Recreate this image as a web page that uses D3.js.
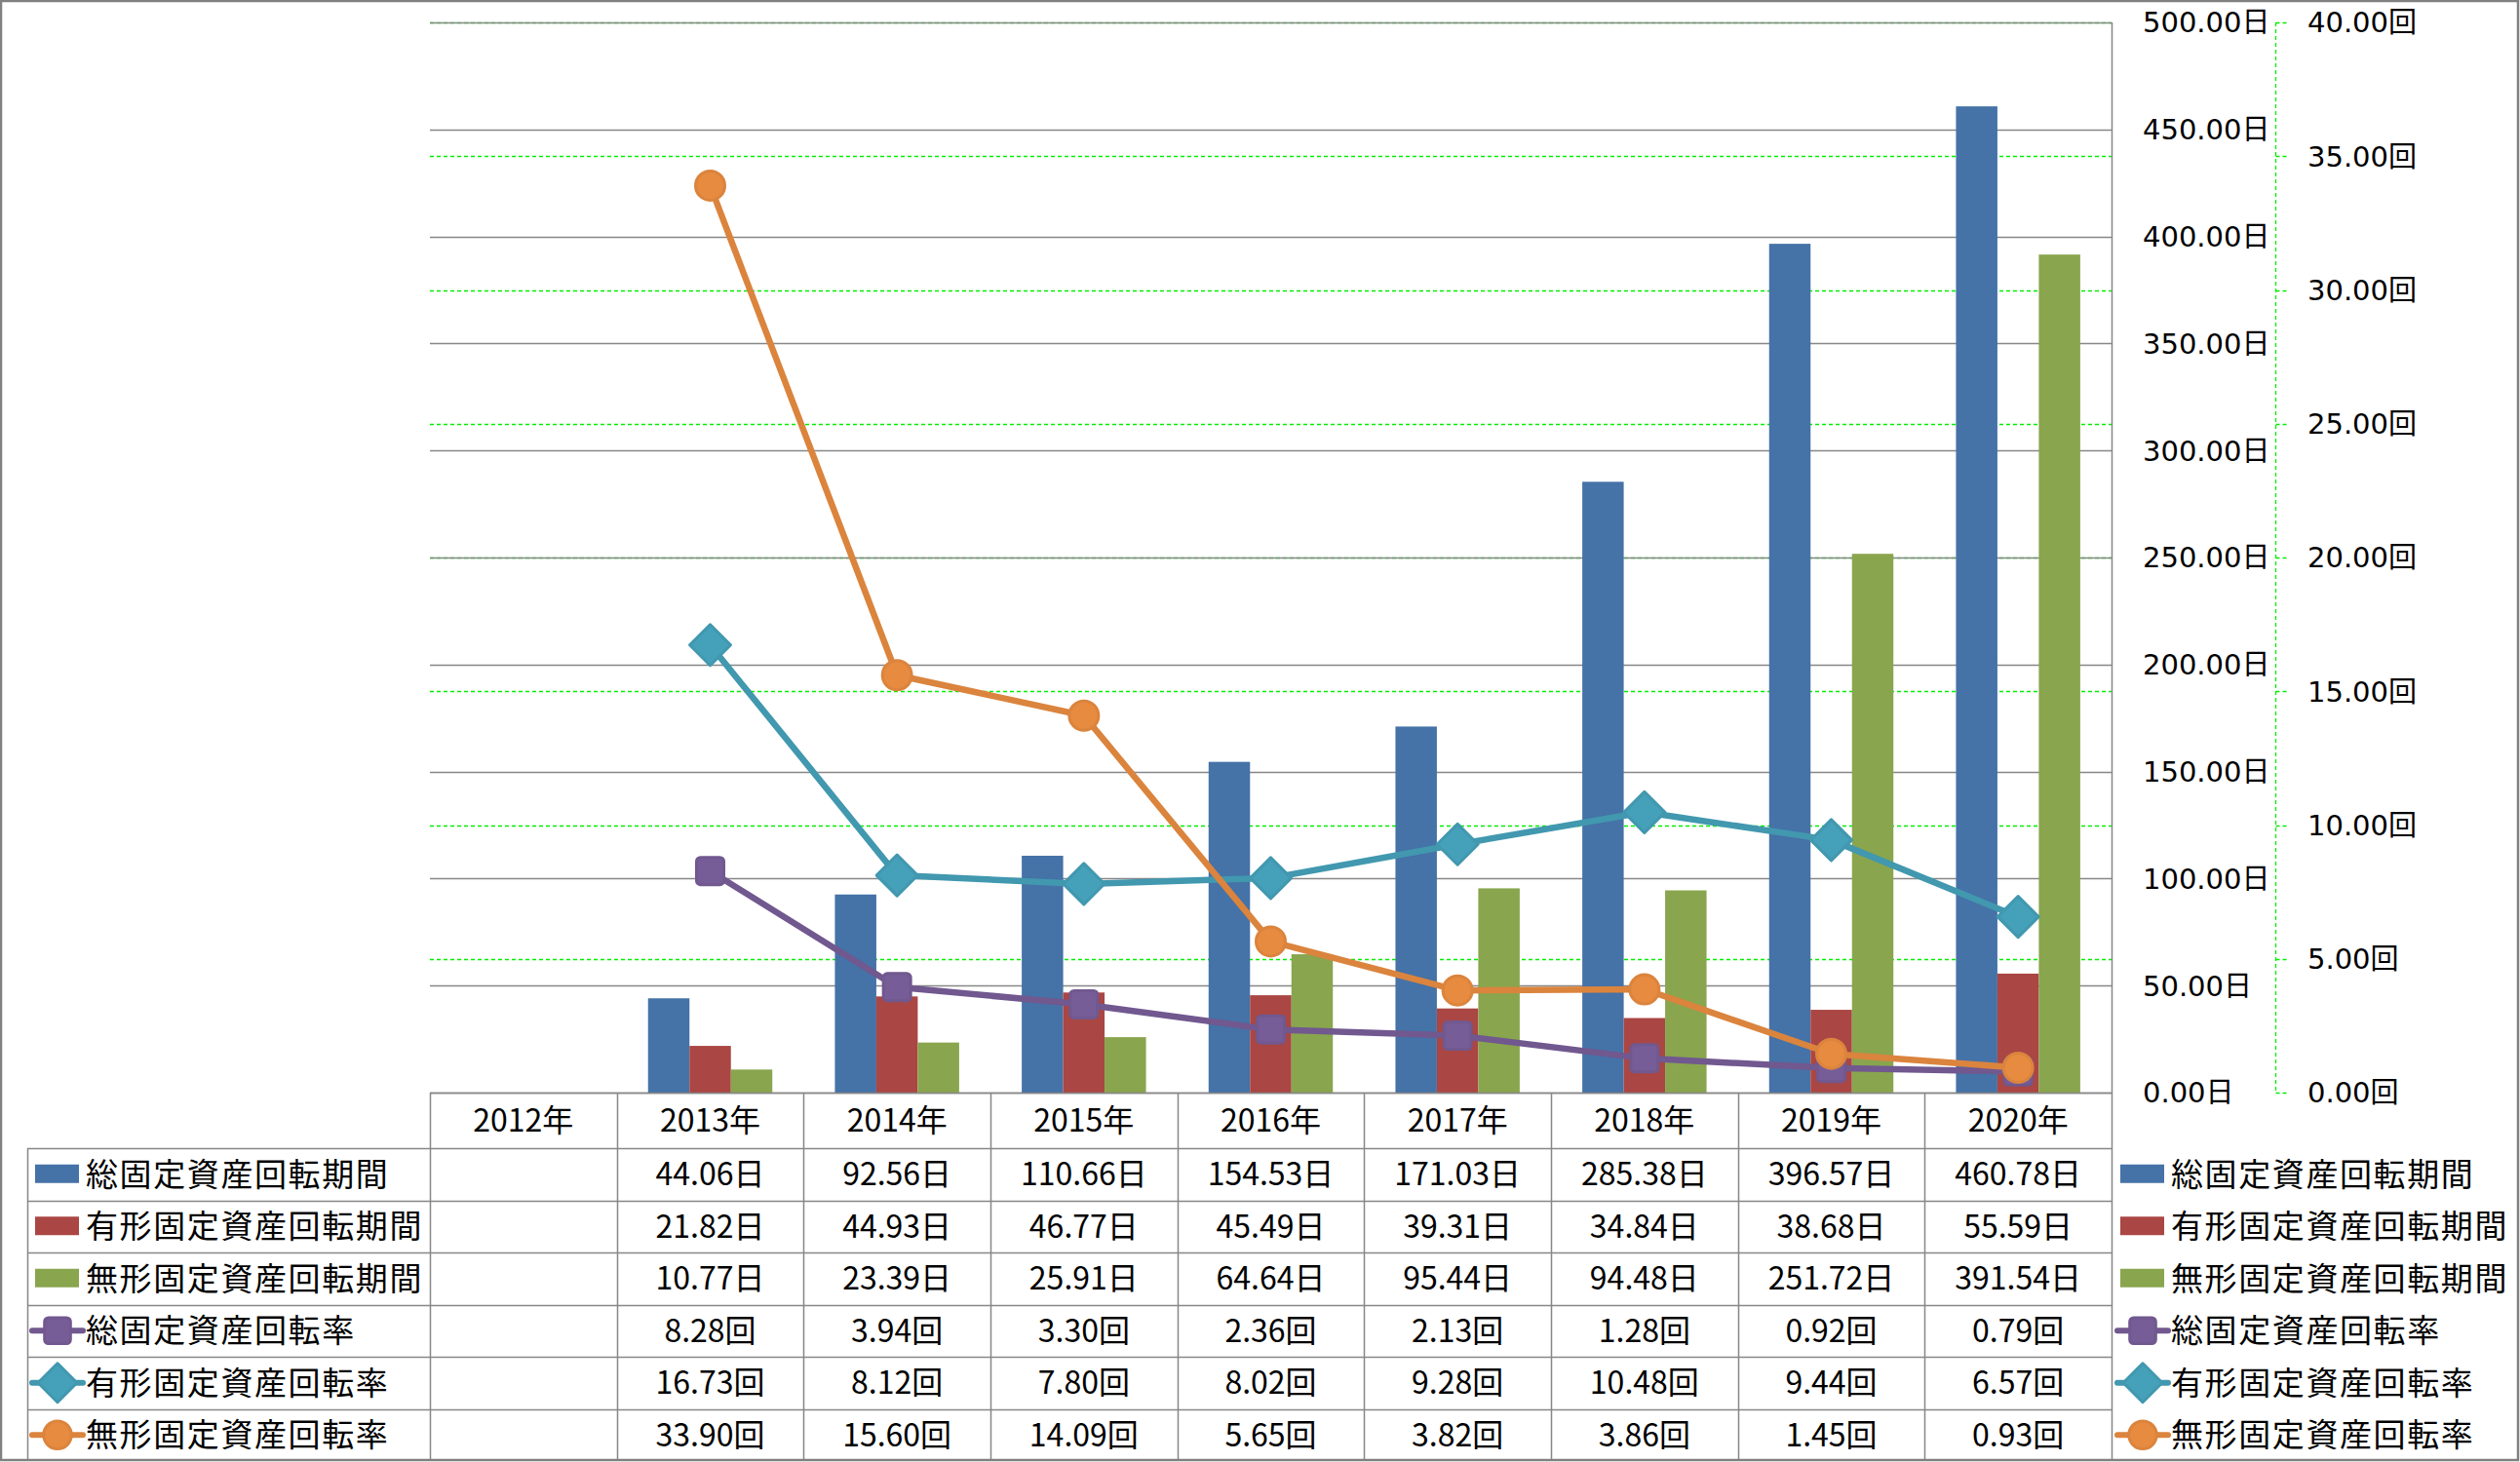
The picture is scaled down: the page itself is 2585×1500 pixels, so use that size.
<!DOCTYPE html>
<html>
<head>
<meta charset="utf-8">
<script src="https://cdn.jsdelivr.net/npm/d3@7"></script>
<style>
  html, body { margin: 0; padding: 0; background: #fff; }
  svg { display: block; }
</style>
</head>
<body>
<svg id="chart" width="2585" height="1500"></svg>
<script>
// ---------------- DATA ----------------
const categories = ["2012年", "2013年", "2014年", "2015年", "2016年", "2017年", "2018年", "2019年", "2020年"];
const seriesNames = ["総固定資産回転期間", "有形固定資産回転期間", "無形固定資産回転期間", "総固定資産回転率", "有形固定資産回転率", "無形固定資産回転率"];
const totalPeriod      = [null, 44.06, 92.56, 110.66, 154.53, 171.03, 285.38, 396.57, 460.78];
const tangiblePeriod   = [null, 21.82, 44.93, 46.77, 45.49, 39.31, 34.84, 38.68, 55.59];
const intangiblePeriod = [null, 10.77, 23.39, 25.91, 64.64, 95.44, 94.48, 251.72, 391.54];
const totalRate        = [null, 8.28, 3.94, 3.30, 2.36, 2.13, 1.28, 0.92, 0.79];
const tangibleRate     = [null, 16.73, 8.12, 7.80, 8.02, 9.28, 10.48, 9.44, 6.57];
const intangibleRate   = [null, 33.90, 15.60, 14.09, 5.65, 3.82, 3.86, 1.45, 0.93];
const leftTicks  = [0, 50, 100, 150, 200, 250, 300, 350, 400, 450, 500];
const rightTicks = [0, 5, 10, 15, 20, 25, 30, 35, 40];
const dayUnit = "日";
const rateUnit = "回";

// ---------------- STYLE / LAYOUT ----------------
const colors = ["#4572A7", "#AA4643", "#89A54E", "#71588F", "#4198AF", "#DB843D"];
const markerTypes = ["rect", "rect", "rect", "square", "diamond", "circle"];
const plot = { left: 441, right: 2166, top: 23, bottom: 1121 };
const tableLeft = 28, rowH = 53.5, tableBottom = 1498;
const axisFont = "'DejaVu Sans', 'Noto Sans CJK JP', sans-serif";
const tableFont = "'Noto Sans CJK JP', sans-serif";

const svg = d3.select("#chart");

const x = d3.scaleBand().domain(categories).range([plot.left, plot.right]).paddingInner(0).paddingOuter(0);
const yL = d3.scaleLinear().domain([0, 500]).range([plot.bottom, plot.top]);
const yR = d3.scaleLinear().domain([0, 40]).range([plot.bottom, plot.top]);

const barSeries = [totalPeriod, tangiblePeriod, intangiblePeriod];
const lineSeries = [totalRate, tangibleRate, intangibleRate];
const groupW = x.bandwidth() * 0.665;
const xs = d3.scaleBand().domain([0, 1, 2]).range([0, groupW]).padding(0);

// green dashed gridlines (right axis)
svg.append("g").selectAll("line").data(rightTicks.filter(d => d > 0)).join("line")
  .attr("x1", plot.left).attr("x2", plot.right)
  .attr("y1", d => Math.round(yR(d)) + 0.5).attr("y2", d => Math.round(yR(d)) + 0.5)
  .attr("stroke", "#00F000").attr("stroke-width", 1.3).attr("stroke-dasharray", "4,3");

// gray gridlines (left axis)
svg.append("g").selectAll("line").data(leftTicks).join("line")
  .attr("x1", plot.left).attr("x2", plot.right)
  .attr("y1", d => Math.round(yL(d)) + 0.5).attr("y2", d => Math.round(yL(d)) + 0.5)
  .attr("stroke", "#878787").attr("stroke-width", 1.5);

// bars
barSeries.forEach((vals, si) => {
  svg.append("g").selectAll("rect").data(categories.map((c, i) => ({ c, v: vals[i] })).filter(d => d.v != null)).join("rect")
    .attr("x", d => x(d.c) + (x.bandwidth() - groupW) / 2 + xs(si))
    .attr("width", xs.bandwidth())
    .attr("y", d => yL(d.v))
    .attr("height", d => yL(0) - yL(d.v))
    .attr("fill", colors[si]);
});

// markers
function drawMarker(g, type, cx, cy, color, scale = 1) {
  if (type === "square") {
    const s = 28 * scale;
    g.append("rect").attr("x", cx - s / 2).attr("y", cy - s / 2).attr("width", s).attr("height", s)
      .attr("rx", 4).attr("fill", d3.color(color).brighter(0.15)).attr("stroke", color).attr("stroke-width", 3);
  } else if (type === "diamond") {
    const r = 21 * scale;
    g.append("path").attr("d", `M${cx},${cy - r}L${cx + r},${cy}L${cx},${cy + r}L${cx - r},${cy}Z`)
      .attr("fill", d3.color(color).brighter(0.15)).attr("stroke", color).attr("stroke-width", 3).attr("stroke-linejoin", "round");
  } else if (type === "circle") {
    g.append("circle").attr("cx", cx).attr("cy", cy).attr("r", 15 * scale)
      .attr("fill", d3.color(color).brighter(0.15)).attr("stroke", color).attr("stroke-width", 3);
  }
}

// lines
lineSeries.forEach((vals, li) => {
  const si = li + 3;
  const pts = categories.map((c, i) => ({ c, v: vals[i] }));
  const line = d3.line().defined(d => d.v != null)
    .x(d => x(d.c) + x.bandwidth() / 2).y(d => yR(d.v));
  svg.append("path").datum(pts).attr("d", line)
    .attr("fill", "none").attr("stroke", colors[si]).attr("stroke-width", 6.5).attr("stroke-linejoin", "round");
  const g = svg.append("g");
  pts.filter(d => d.v != null).forEach(d => drawMarker(g, markerTypes[si], x(d.c) + x.bandwidth() / 2, yR(d.v), colors[si]));
});

// plot right border
svg.append("line").attr("x1", plot.right + 0.5).attr("x2", plot.right + 0.5).attr("y1", plot.top).attr("y2", tableBottom)
  .attr("stroke", "#878787").attr("stroke-width", 1.5);

// left-value axis labels (placed at right)
svg.append("g").selectAll("text").data(leftTicks).join("text")
  .attr("x", 2198).attr("y", d => yL(d)).attr("dy", "0.36em")
  .attr("font-family", axisFont).attr("font-size", 29).attr("fill", "#000")
  .text(d => d3.format(".2f")(d) + dayUnit);

// secondary axis (green dashed)
const axR = 2334.5;
svg.append("line").attr("x1", axR).attr("x2", axR).attr("y1", yR(40)).attr("y2", yR(0))
  .attr("stroke", "#00F000").attr("stroke-width", 1.3).attr("stroke-dasharray", "4,3");
svg.append("g").selectAll("line").data(rightTicks).join("line")
  .attr("x1", axR).attr("x2", axR + 12)
  .attr("y1", d => Math.round(yR(d)) + 0.5).attr("y2", d => Math.round(yR(d)) + 0.5)
  .attr("stroke", "#00F000").attr("stroke-width", 1.3).attr("stroke-dasharray", "4,3");
svg.append("g").selectAll("text").data(rightTicks).join("text")
  .attr("x", 2367).attr("y", d => yR(d)).attr("dy", "0.36em")
  .attr("font-family", axisFont).attr("font-size", 29).attr("fill", "#000")
  .text(d => d3.format(".2f")(d) + rateUnit);

// ---------------- DATA TABLE ----------------
const tbl = svg.append("g");
const gridColor = "#878787";
// header row
const headerTop = plot.bottom, headerBottom = 1178;
tbl.append("line").attr("x1", plot.left).attr("x2", plot.right).attr("y1", headerTop + 0.5).attr("y2", headerTop + 0.5)
  .attr("stroke", gridColor).attr("stroke-width", 1.5);
tbl.selectAll("text.hdr").data(categories).join("text").attr("class", "hdr")
  .attr("x", d => x(d) + x.bandwidth() / 2).attr("y", (headerTop + headerBottom) / 2).attr("dy", "0.36em")
  .attr("text-anchor", "middle").attr("font-family", tableFont).attr("font-size", 32).text(d => d);

const allSeries = [totalPeriod, tangiblePeriod, intangiblePeriod, totalRate, tangibleRate, intangibleRate];
const rowTops = allSeries.map((s, i) => headerBottom + i * rowH);
// horizontal row lines
rowTops.forEach(t => {
  tbl.append("line").attr("x1", tableLeft).attr("x2", plot.right).attr("y1", Math.round(t) + 0.5).attr("y2", Math.round(t) + 0.5)
    .attr("stroke", gridColor).attr("stroke-width", 1.5);
});
// vertical column lines
categories.forEach(c => {
  tbl.append("line").attr("x1", Math.round(x(c)) + 0.5).attr("x2", Math.round(x(c)) + 0.5)
    .attr("y1", headerTop).attr("y2", tableBottom).attr("stroke", gridColor).attr("stroke-width", 1.5);
});
tbl.append("line").attr("x1", tableLeft + 0.5).attr("x2", tableLeft + 0.5).attr("y1", headerBottom).attr("y2", tableBottom)
  .attr("stroke", gridColor).attr("stroke-width", 1.5);

function legendKey(g, si, x0, cy) {
  if (si < 3) {
    g.append("rect").attr("x", x0 + 8).attr("y", cy - 10).attr("width", 45).attr("height", 19).attr("fill", colors[si]);
  } else {
    g.append("line").attr("x1", x0 + 5).attr("x2", x0 + 57).attr("y1", cy).attr("y2", cy)
      .attr("stroke", colors[si]).attr("stroke-width", 6).attr("stroke-linecap", "round");
    drawMarker(g, markerTypes[si], x0 + 31, cy, colors[si], 0.95);
  }
}

allSeries.forEach((vals, si) => {
  const cy = rowTops[si] + rowH / 2;
  legendKey(tbl, si, tableLeft, cy);
  tbl.append("text").attr("x", 88).attr("y", cy).attr("dy", "0.36em")
    .attr("font-family", tableFont).attr("font-size", 33).attr("letter-spacing", 1.6).text(seriesNames[si]);
  const unit = si < 3 ? dayUnit : rateUnit;
  tbl.selectAll(null).data(categories.map((c, i) => ({ c, v: vals[i] })).filter(d => d.v != null)).join("text")
    .attr("x", d => x(d.c) + x.bandwidth() / 2).attr("y", cy).attr("dy", "0.36em")
    .attr("text-anchor", "middle").attr("font-family", tableFont).attr("font-size", 32)
    .text(d => d3.format(".2f")(d.v) + unit);
  // right-side legend
  legendKey(svg, si, 2167, cy);
  svg.append("text").attr("x", 2227).attr("y", cy).attr("dy", "0.36em")
    .attr("font-family", tableFont).attr("font-size", 33).attr("letter-spacing", 1.6).text(seriesNames[si]);
});

// outer border
svg.append("rect").attr("x", 1).attr("y", 1).attr("width", 2582).attr("height", 1497)
  .attr("fill", "none").attr("stroke", "#808080").attr("stroke-width", 2.5);
</script>
</body>
</html>
